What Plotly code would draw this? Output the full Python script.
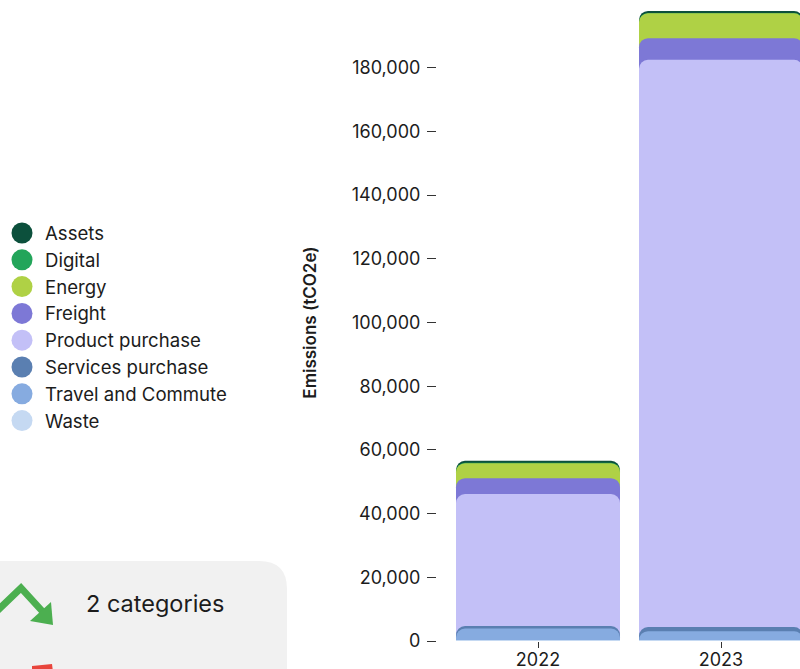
import numpy as np
import plotly.graph_objects as go

# Emissions by category (tCO2e), per reporting year
years = ["2022", "2023"]
categories = [
    "Assets", "Digital", "Energy", "Freight", "Product purchase",
    "Services purchase", "Travel and Commute", "Waste",
]
assets = [600, 600]
digital = [150, 150]
energy = [4700, 7800]
freight = [5000, 6800]
product_purchase = [41450, 178100]
services_purchase = [780, 1260]
travel_and_commute = [3800, 3000]
waste = [100, 100]

colors = [
    "#0c503c", "#23a55a", "#afd145", "#7d78d6", "#c3c0f7",
    "#5a7fb1", "#86abe0", "#c5d9f2",
]
series = [assets, digital, energy, freight, product_purchase,
          services_purchase, travel_and_commute, waste]

FONT = "Inter"
TEXT = "#1c1c1c"

# Plot area geometry in pixels
W, H = 800, 669
L, R, T, B = 437, 800, 4, 641
STEP = 183.0                      # pixels per category
X0 = -101.0 / STEP                # puts the first category centre at x=538
XRANGE = [X0, X0 + (R - L) / STEP]
BAR_W = 164.0 / STEP


def px(x):
    return (x - L) / (R - L)


def py(y):
    return (B - y) / (B - T)


# Stack bottom-to-top is Waste ... Assets; each segment is drawn as a bar from
# zero to its cumulative top, largest first, so every segment shows a rounded top.
# Each segment sits on its own overlaid x axis so it is rounded independently.
stack = np.array(series[::-1], dtype=float)          # Waste first
cum = np.cumsum(stack, axis=0)[::-1]                  # back to Assets-first order

fig = go.Figure()
axis_layout = {}
for i, (name, color, tops, vals) in enumerate(zip(categories, colors, cum, series)):
    xa = "x" if i == 0 else f"x{i + 1}"
    fig.add_trace(go.Bar(
        x=years, y=tops, name=name, width=BAR_W, xaxis=xa, yaxis="y",
        marker=dict(color=color, cornerradius=9, line=dict(width=0)),
        showlegend=False,
        customdata=vals,
        hovertemplate=name + ": %{customdata:,}<extra></extra>",
    ))
    if i > 0:
        axis_layout[f"xaxis{i + 1}"] = dict(
            type="category", categoryorder="array", categoryarray=years,
            range=XRANGE, overlaying="x", visible=False,
        )

shapes = []
annotations = []

# Legend: filled circles with labels
for i, (name, color) in enumerate(zip(categories, colors)):
    cy = 233 + i * 26.8
    r = 10.5
    shapes.append(dict(
        type="circle", xref="paper", yref="paper",
        x0=px(22 - r), x1=px(22 + r), y0=py(cy + r), y1=py(cy - r),
        fillcolor=color, line=dict(width=0),
    ))
    annotations.append(dict(
        text=name, xref="paper", yref="paper", x=px(43), y=py(cy),
        xanchor="left", yanchor="middle", showarrow=False,
        font=dict(family=FONT, size=18.6, color=TEXT),
    ))

# Summary card in the lower left
cr = 28
card = (f"M {px(-20)},{py(700)} L {px(-20)},{py(561)} "
        f"L {px(287 - cr)},{py(561)} Q {px(287)},{py(561)} {px(287)},{py(561 + cr)} "
        f"L {px(287)},{py(700)} Z")
shapes.append(dict(type="path", xref="paper", yref="paper", path=card,
                   fillcolor="#f1f1f1", line=dict(width=0), layer="below"))

# Green trend-down arrow icon
zig = (f"M {px(-4)},{py(612)} L {px(21)},{py(588)} L {px(43)},{py(612)}")
shapes.append(dict(type="path", xref="paper", yref="paper", path=zig,
                   line=dict(color="#4caf50", width=7)))
head = (f"M {px(51)},{py(602)} L {px(53)},{py(625)} L {px(30)},{py(621)} Z")
shapes.append(dict(type="path", xref="paper", yref="paper", path=head,
                   fillcolor="#4caf50", line=dict(width=0)))
annotations.append(dict(
    text="2 categories", xref="paper", yref="paper", x=px(84), y=py(603),
    xanchor="left", yanchor="middle", showarrow=False,
    font=dict(family=FONT, size=23.5, color=TEXT),
))

# Red icon peeking in at the bottom of the card
red = (f"M {px(32)},{py(666)} L {px(52)},{py(664)} L {px(53)},{py(672)} "
       f"L {px(32)},{py(672)} Z")
shapes.append(dict(type="path", xref="paper", yref="paper", path=red,
                   fillcolor="#e8453c", line=dict(width=0)))

fig.update_layout(
    width=W, height=H,
    margin=dict(l=L, r=W - R, t=T, b=H - B, autoexpand=False),
    barmode="overlay",
    paper_bgcolor="white", plot_bgcolor="white",
    font=dict(family=FONT, size=18, color=TEXT),
    showlegend=False,
    shapes=shapes,
    annotations=annotations,
    xaxis=dict(
        type="category", categoryorder="array", categoryarray=years,
        range=XRANGE,
        showgrid=False, zeroline=False, showline=False,
        ticks="outside", ticklen=6, tickcolor="#333", tickwidth=1,
        ticklabelstandoff=-4,
        tickfont=dict(family=FONT, size=18, color=TEXT),
        automargin=False,
    ),
    yaxis=dict(
        range=[0, 200000],
        tickvals=list(range(0, 200000, 20000)),
        tickformat=",",
        showgrid=False, zeroline=False, showline=False,
        ticks="outside", ticklen=9, tickcolor="#333", tickwidth=1,
        ticklabelstandoff=3,
        tickfont=dict(family=FONT, size=18, color=TEXT),
        title=dict(text="Emissions (tCO2e)", standoff=30,
                   font=dict(family=FONT, size=17, color=TEXT, weight=600)),
        automargin=False,
    ),
    **axis_layout,
)

fig.write_html("out.html")
